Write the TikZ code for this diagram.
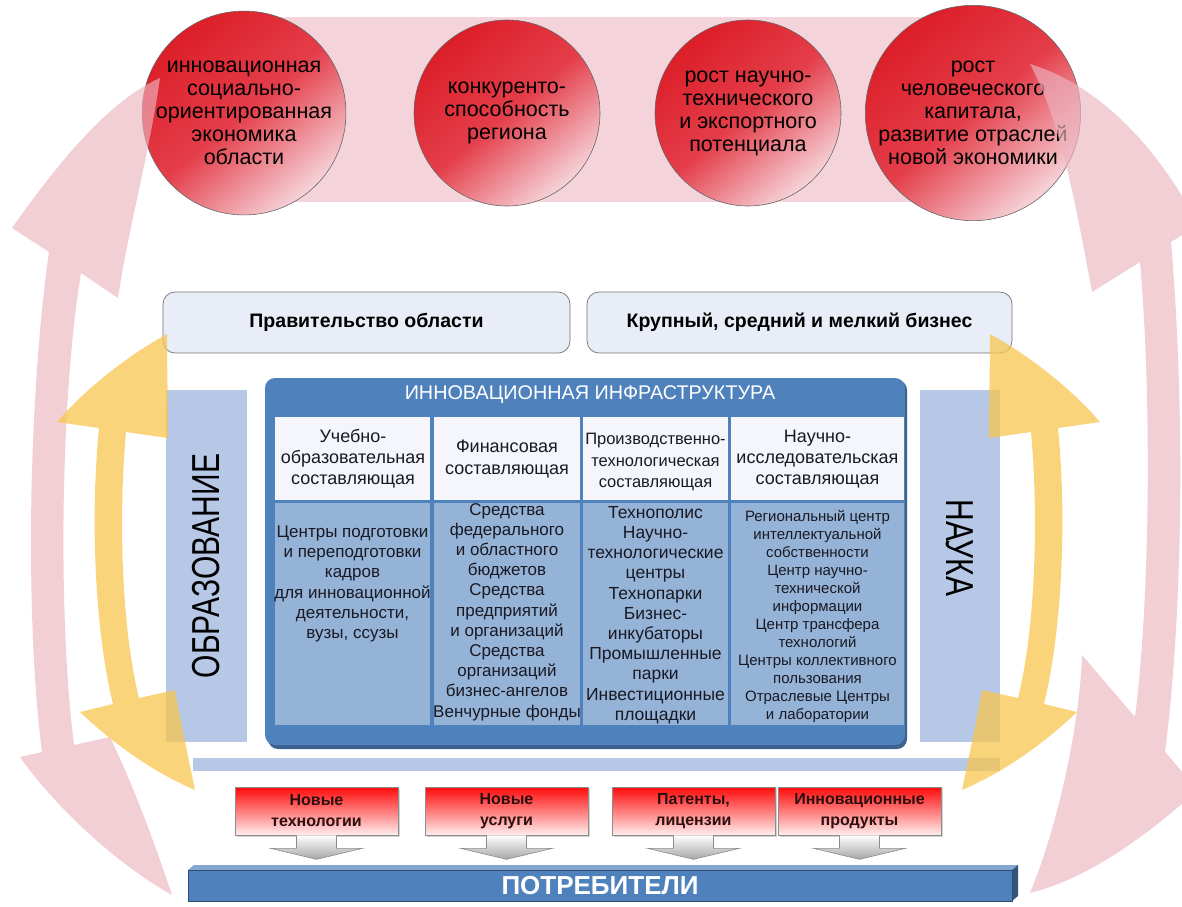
\documentclass[tikz,border=0pt]{standalone}
\usepackage{fontspec}
\setmainfont{Liberation Sans}
\usetikzlibrary{shadows,calc}
\definecolor{pinkband}{RGB}{244,212,218}
\definecolor{pinkarr}{RGB}{236,180,192}
\definecolor{yelarr}{RGB}{247,198,80}
\definecolor{redc}{RGB}{220,30,40}
\definecolor{redmid}{RGB}{228,62,74}
\definecolor{redlight}{RGB}{246,212,218}
\definecolor{boxfill}{RGB}{233,237,247}
\definecolor{panel}{RGB}{183,200,230}
\definecolor{darkblue}{RGB}{79,129,189}
\definecolor{bodyblue}{RGB}{149,179,215}
\definecolor{headcell}{RGB}{244,246,251}
\definecolor{txt}{RGB}{25,25,35}
\definecolor{redtop}{RGB}{255,10,10}
\definecolor{redbot}{RGB}{255,238,238}
\tikzset{
  circ/.style={circle, minimum size=186pt, inner sep=0pt, draw=black!60, line width=0.6pt,
    top color=redc, bottom color=redlight, middle color=redmid, shading angle=40,
    align=center, font=\fontsize{21.5}{23}\selectfont, text=black},
  topbox/.style={rectangle, rounded corners=12pt, fill=boxfill, draw=black!55, line width=0.7pt,
    minimum height=61pt, font=\bfseries\fontsize{19.5}{22}\selectfont, text=black},
  panelbox/.style={rectangle, fill=panel, draw=none, inner sep=0pt},
  hcell/.style={rectangle, fill=headcell, draw=none, inner sep=0pt, minimum height=83pt},
  bcell/.style={rectangle, fill=bodyblue, draw=none, inner sep=0pt, minimum height=222pt},
  htext/.style={align=center, inner sep=0pt, text=txt, font=\fontsize{18}{21}\selectfont},
  btext/.style={align=center, inner sep=0pt, text=txt, font=\fontsize{17}{20.2}\selectfont},
  redbox/.style={rectangle, minimum width=163pt, minimum height=48pt, inner sep=0pt,
    top color=redtop, bottom color=redbot, draw=black!45, line width=0.6pt,
    drop shadow={shadow xshift=2pt, shadow yshift=-2pt, fill=black!35},
    align=center, font=\bfseries\fontsize{16}{21}\selectfont, text={rgb,255:red,45;green,15;blue,15}},
  downarr/.style={top color=white, bottom color=black!35, draw=black!45, line width=0.6pt},
  pinkshape/.style={fill=pinkarr, fill opacity=0.65, draw=none},
  yelshape/.style={fill=yelarr, fill opacity=0.75, draw=none},
  bigtext/.style={inner sep=0pt, text=black}
}
\begin{document}
\begin{tikzpicture}[x=1pt,y=-1pt]
\useasboundingbox (0,0) rectangle (1182,906);
\fill[white] (0,0) rectangle (1182,906);

% top pink band
\fill[pinkband] (245,17) rectangle (975,202);

% circles
\node[circ] (c1) at (244,113) {инновационная\\социально-\\ориентированная\\экономика\\области};
\node[circ] (c2) at (507,113) {конкуренто-\\способность\\региона};
\node[circ] (c3) at (748,113) {рост научно-\\технического\\и экспортного\\потенциала};
\node[circ] (c4) at (973,113) {рост\\человеческого\\капитала,\\развитие отраслей\\новой экономики};

% left pink double arrow
\path[pinkshape] (160,78) .. controls (150,150) and (128,230) .. (118,298)
  -- (81,273) .. controls (60,400) and (58,620) .. (74,745)
  -- (110,737) .. controls (140,800) and (160,860) .. (172,895)
  .. controls (110,860) and (50,800) .. (20,757)
  -- (42,752) .. controls (25,620) and (28,400) .. (49,252)
  -- (12,228) .. controls (60,160) and (110,100) .. (160,78) -- cycle;

% right pink double arrow
\path[pinkshape] (1030,64) .. controls (1100,85) and (1160,150) .. (1198,225)
  -- (1171,242) .. controls (1186,420) and (1182,620) .. (1165,752)
  -- (1198,790) .. controls (1130,850) and (1080,880) .. (1030,893)
  .. controls (1060,820) and (1080,720) .. (1082,655)
  -- (1135,717) .. controls (1150,600) and (1152,400) .. (1140,262)
  -- (1092,292) .. controls (1075,200) and (1060,120) .. (1030,64) -- cycle;

% top boxes
\node[topbox, minimum width=407pt] (gov) at (366.5,322.5) {Правительство области};
\node[topbox, minimum width=425pt] (biz) at (799.5,322.5) {Крупный, средний и мелкий бизнес};

% side panels
\node[panelbox, minimum width=81pt, minimum height=352pt] (obr) at (206.5,566) {};
\node[bigtext, rotate=90] (obrt) at (obr.center) {\scalebox{1}[1.3]{\fontsize{30}{30}\selectfont ОБРАЗОВАНИЕ}};
\node[panelbox, minimum width=80pt, minimum height=352pt] (nauka) at (960,566) {};
\node[bigtext, rotate=-90] (naukat) at (960,548) {\scalebox{1}[1.3]{\fontsize{30}{30}\selectfont НАУКА}};

% infrastructure box
\fill[darkblue!75!black, rounded corners=10pt] (268,380) rectangle (907,749);
\node[rectangle, fill=darkblue, rounded corners=10pt, minimum width=640pt, minimum height=367pt, inner sep=0pt] (infra) at (585,561.5) {};
\node[inner sep=0pt, text=white, font=\fontsize{19.8}{22}\selectfont] (infrah) at (590,395) {ИННОВАЦИОННАЯ ИНФРАСТРУКТУРА};

% column cells
\node[hcell, minimum width=155pt] (h1) at (352.5,458.5) {};
\node[hcell, minimum width=146pt] (h2) at (507,458.5) {};
\node[hcell, minimum width=145pt] (h3) at (655.5,458.5) {};
\node[hcell, minimum width=173pt] (h4) at (817.5,458.5) {};
\node[bcell, minimum width=155pt] (b1) at (352.5,614) {};
\node[bcell, minimum width=146pt] (b2) at (507,614) {};
\node[bcell, minimum width=145pt] (b3) at (655.5,614) {};
\node[bcell, minimum width=173pt] (b4) at (817.5,614) {};

\node[htext] (h1t) at (353,459) {Учебно-\\образовательная\\составляющая};
\node[htext, font=\fontsize{18}{22.5}\selectfont] (h2t) at (507,459) {Финансовая\\составляющая};
\node[htext, font=\fontsize{16.5}{21.5}\selectfont] (h3t) at (655.5,462) {Производственно-\\технологическая\\составляющая};
\node[htext] (h4t) at (817.5,459) {Научно-\\исследовательская\\составляющая};

\node[btext] (b1t) at (352.5,584) {Центры подготовки\\и переподготовки\\кадров\\для инновационной\\деятельности,\\вузы, ссузы};
\node[btext] (b2t) at (507,612) {Средства\\федерального\\и областного\\бюджетов\\Средства\\предприятий\\и организаций\\Средства\\организаций\\бизнес-ангелов\\Венчурные фонды};
\node[btext, font=\fontsize{17.5}{20.2}\selectfont] (b3t) at (655.5,615) {Технополис\\Научно-\\технологические\\центры\\Технопарки\\Бизнес-\\инкубаторы\\Промышленные\\парки\\Инвестиционные\\площадки};
\node[btext, font=\fontsize{15}{18}\selectfont] (b4t) at (817.5,616) {Региональный центр\\интеллектуальной\\собственности\\Центр научно-\\технической\\информации\\Центр трансфера\\технологий\\Центры коллективного\\пользования\\Отраслевые Центры\\и лаборатории};

% light strip
\node[panelbox, minimum width=807pt, minimum height=13pt] (strip) at (596.5,764.5) {};

% red boxes and hollow arrows
\node[redbox] (r1) at (316.5,811) {Новые\\технологии};
\node[redbox] (r2) at (506.5,811) {Новые\\услуги};
\node[redbox] (r3) at (693.5,811) {Патенты,\\лицензии};
\node[redbox] (r4) at (859.5,811) {Инновационные\\продукты};
\foreach \r in {r1,r2,r3,r4}{
  \path[downarr] ($(\r.south)+(-20,0)$) -- ($(\r.south)+(-20,13)$) -- ($(\r.south)+(-46,13)$)
    -- ($(\r.south)+(0,24)$) -- ($(\r.south)+(46,13)$) -- ($(\r.south)+(20,13)$)
    -- ($(\r.south)+(20,0)$);
}

% consumers bar
\fill[darkblue!70!white] (188,870) -- (194,865) -- (1018,865) -- (1012,870) -- cycle;
\fill[darkblue!65!black] (1012,870) -- (1018,865) -- (1018,896) -- (1012,901) -- cycle;
\node[rectangle, fill=darkblue, draw=darkblue!60!black, line width=0.6pt, minimum width=824pt, minimum height=31pt, inner sep=0pt,
  text=white, font=\bfseries\fontsize{26}{28}\selectfont] (potr) at (600,885.5) {ПОТРЕБИТЕЛИ};

% left yellow double arrow
\path[yelshape] (167,334) .. controls (120,360) and (80,395) .. (57,422)
  -- (99,428) .. controls (90,520) and (95,630) .. (113,704)
  -- (80,712) .. controls (120,750) and (160,775) .. (195,790)
  .. controls (190,765) and (182,730) .. (175,690)
  -- (139,698) .. controls (122,630) and (118,520) .. (126,432)
  -- (168,438) .. controls (168,400) and (167,370) .. (167,334) -- cycle;

% right yellow double arrow
\path[yelshape] (990,334) .. controls (1037,360) and (1077,395) .. (1100,422)
  -- (1058,428) .. controls (1067,520) and (1062,630) .. (1044,704)
  -- (1077,712) .. controls (1037,750) and (997,775) .. (962,790)
  .. controls (967,765) and (975,730) .. (982,690)
  -- (1018,698) .. controls (1035,630) and (1039,520) .. (1031,432)
  -- (989,438) .. controls (989,400) and (990,370) .. (990,334) -- cycle;
\end{tikzpicture}
\end{document}
